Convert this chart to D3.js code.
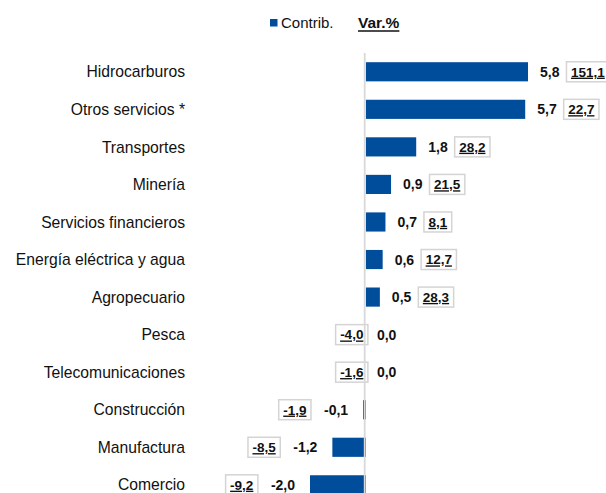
<!DOCTYPE html>
<html><head><meta charset="utf-8">
<script src="https://cdn.jsdelivr.net/npm/d3@7"></script>
<style>
html,body{margin:0;padding:0;background:#fff;}
svg{display:block;font-family:"Liberation Sans",Arial,sans-serif;}
</style></head>
<body>
<svg id="chart" width="606" height="493"></svg>
<script>
const categories = ["Hidrocarburos","Otros servicios *","Transportes","Minería","Servicios financieros","Energía eléctrica y agua","Agropecuario","Pesca","Telecomunicaciones","Construcción","Manufactura","Comercio"];
const contrib = [5.8,5.7,1.8,0.9,0.7,0.6,0.5,0.0,0.0,-0.1,-1.2,-2.0];
const varPct = [151.1,22.7,28.2,21.5,8.1,12.7,28.3,-4.0,-1.6,-1.9,-8.5,-9.2];
const legendLabels = ["Contrib.","Var.%"];

const blue = "#004d9c";
const svg = d3.select("#chart");
const fmt = v => d3.format(".1f")(v).replace("\u2212", "-").replace(".", ",");

const x = d3.scaleLinear().domain([-2.0, 5.8]).range([310, 528]);
const step = 37.55;
const y = d3.scaleBand().domain(categories).range([53, 53 + step*categories.length])
  .paddingInner(0.49).paddingOuter(0.245);
const data = categories.map((c,i)=>({c, v:contrib[i], p:varPct[i]}));

// bars
svg.append("g").selectAll("rect").data(data).join("rect")
  .attr("x", d => x(Math.min(0,d.v)))
  .attr("width", d => Math.abs(x(d.v)-x(0)))
  .attr("y", d => y(d.c))
  .attr("height", y.bandwidth())
  .attr("fill", blue);

// category labels
svg.append("g").selectAll("text").data(data).join("text")
  .attr("x", 185).attr("y", d => y(d.c)+y.bandwidth()/2)
  .attr("dy","0.36em").attr("text-anchor","end")
  .attr("font-size","15.7px").attr("fill","#111")
  .text(d => d.c);

// labels & boxes
const lg = svg.append("g");
data.forEach(d => {
  const cy = y(d.c)+y.bandwidth()/2;
  const t = lg.append("text").attr("y", cy).attr("dy","0.36em")
    .attr("font-size","14px").attr("font-weight","bold").attr("fill","#111")
    .text(fmt(d.v));
  let lx0, lx1;
  const w = t.node().getComputedTextLength();
  if (d.v >= 0) {
    lx0 = x(d.v) + (d.v === 0 ? 11 : 12);
    t.attr("x", lx0).attr("text-anchor","start");
    lx1 = lx0 + w;
  } else {
    lx1 = x(d.v) - 15;
    t.attr("x", lx1).attr("text-anchor","end");
    lx0 = lx1 - w;
  }
  const bt = lg.append("text").attr("y", cy).attr("dy","0.36em")
    .attr("font-size","13.5px").attr("font-weight","bold").attr("fill","#111")
    .attr("text-decoration","underline").attr("text-anchor","middle")
    .text(fmt(d.p));
  const bw = bt.node().getComputedTextLength() + 9;
  let bx;
  if (d.v > 0) bx = lx1 + 7;
  else if (d.v === 0) bx = x(0) + 2 - bw;
  else bx = lx0 - 13 - bw;
  lg.insert("rect", () => bt.node())
    .attr("x", bx).attr("y", cy-10).attr("width", bw).attr("height", 20)
    .attr("fill","#fff").attr("stroke","#d4d4d4").attr("stroke-width",1.5);
  bt.attr("x", bx + bw/2);
});

// zero axis line
svg.append("line").attr("x1", x(0)-1.2).attr("x2", x(0)-1.2)
  .attr("y1", 53).attr("y2", 493)
  .attr("stroke","#d9d9d9").attr("stroke-width",1.8);

// legend
svg.append("rect").attr("x",270).attr("y",19).attr("width",7.5).attr("height",7.5).attr("fill",blue);
svg.append("text").attr("x",281).attr("y",28).attr("font-size","15px").attr("fill","#111").text(legendLabels[0]);
const vt = svg.append("text").attr("x",358).attr("y",28).attr("font-size","15.5px")
  .attr("font-weight","bold").attr("fill","#111").text(legendLabels[1]);
const vw = vt.node().getComputedTextLength();
svg.append("line").attr("x1",358).attr("x2",358+vw).attr("y1",31).attr("y2",31)
  .attr("stroke","#111").attr("stroke-width",1.6);
</script>
</body></html>
